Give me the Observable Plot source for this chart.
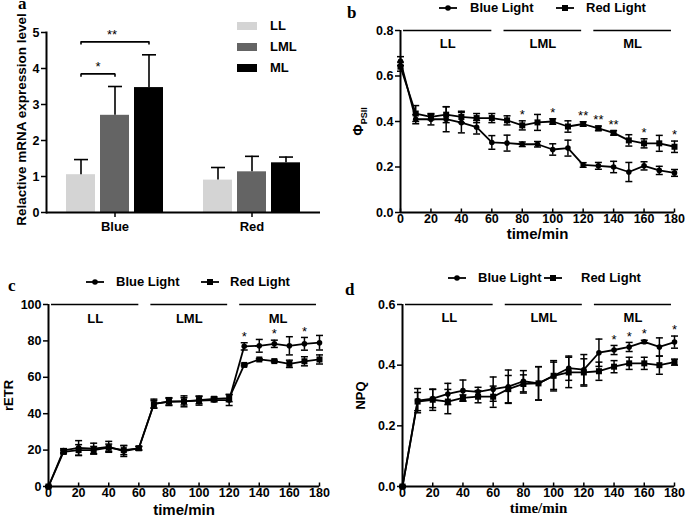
<!DOCTYPE html>
<html><head><meta charset="utf-8">
<script src="https://cdn.jsdelivr.net/npm/d3@7"></script>
<script src="https://cdn.jsdelivr.net/npm/@observablehq/plot@0.6"></script>
<style>
html,body{margin:0;padding:0;background:#fff;}
#page{position:relative;width:685px;height:521px;overflow:hidden;font-family:"Liberation Sans",Arial,sans-serif;font-weight:bold;color:#000;}
.panel{position:absolute;}
.panel svg{overflow:visible;}
.plab{position:absolute;font-family:"Liberation Serif","Times New Roman",serif;font-weight:bold;font-size:17px;line-height:17px;}
.leg{position:absolute;font-size:13px;line-height:16px;white-space:nowrap;}
.sym{position:absolute;overflow:visible;}
.sw{position:absolute;width:20px;height:8px;}
</style></head><body><div id="page">
<div id="pa" class="panel" style="left:0;top:0"></div>
<div id="pb" class="panel" style="left:340px;top:0"></div>
<div id="pc" class="panel" style="left:0;top:260px"></div>
<div id="pd" class="panel" style="left:340px;top:260px"></div>
</div>
<script>
// ---------- Panel a data ----------
const groups = ["Blue", "Red"];
const treatments = ["LL", "LML", "ML"];
const treatColors = ["#d4d4d4", "#646464", "#000000"];
const blueExpr = [1.05, 2.70, 3.47];
const blueExprErr = [0.42, 0.80, 0.91];
const redExpr = [0.90, 1.13, 1.38];
const redExprErr = [0.35, 0.43, 0.16];
const sigFrom = ["LL", "LL"];
const sigTo = ["LML", "ML"];
const sigLevel = [3.85, 4.74];
const sigText = ["*", "**"];

// ---------- Time-course data ----------
const times = [0, 10, 20, 30, 40, 50, 60, 70, 80, 90, 100, 110, 120, 130, 140, 150, 160, 170, 180];
const xTicks = [0, 20, 40, 60, 80, 100, 120, 140, 160, 180];
const periodNames = ["LL", "LML", "ML"];
const periodStart = [2, 68, 127];
const periodEnd = [60, 119, 178];

const phiBlue = [0.665, 0.41, 0.41, 0.41, 0.395, 0.375, 0.308, 0.305, 0.30, 0.30, 0.277, 0.283, 0.209, 0.205, 0.20, 0.178, 0.205, 0.185, 0.174];
const phiBlueErr = [0.02, 0.02, 0.025, 0.055, 0.045, 0.03, 0.03, 0.035, 0.01, 0.012, 0.025, 0.035, 0.01, 0.015, 0.025, 0.042, 0.018, 0.018, 0.015];
const phiRed = [0.641, 0.435, 0.42, 0.43, 0.42, 0.415, 0.415, 0.405, 0.383, 0.396, 0.40, 0.378, 0.389, 0.37, 0.35, 0.317, 0.304, 0.304, 0.289];
const phiRedErr = [0.02, 0.035, 0.012, 0.035, 0.025, 0.02, 0.02, 0.02, 0.02, 0.035, 0.012, 0.025, 0.01, 0.01, 0.01, 0.025, 0.02, 0.035, 0.025];
const phiStarTimes = [80, 100, 120, 130, 140, 160, 180];
const phiStarText = ["*", "*", "**", "**", "**", "*", "*"];

const etrBlue = [0, 19.8, 21.2, 20.8, 21.8, 19.5, 21, 45.5, 46.5, 46.8, 47.2, 47.5, 47.5, 77, 77.3, 78.4, 77.3, 78.4, 79];
const etrBlueErr = [0.5, 1, 4, 3, 3, 3, 1, 2.5, 2, 3, 2.5, 1, 3, 2, 3.5, 2, 5, 3.5, 4];
const etrRed = [0, 19, 20, 20, 21.3, 20, 21, 45.2, 46.8, 46.8, 47.5, 48.2, 48.6, 66.8, 69.8, 68.9, 67.4, 68.8, 69.8];
const etrRedErr = [0.5, 1, 3, 2, 2, 2.5, 1, 2, 2, 2, 2, 1, 2, 0.5, 0.5, 0.5, 2, 2.5, 2.5];
const etrStarTimes = [130, 150, 170];
const etrStarText = ["*", "*", "*"];

const npqBlue = [0, 0.283, 0.29, 0.305, 0.316, 0.312, 0.321, 0.329, 0.347, 0.34, 0.365, 0.39, 0.385, 0.441, 0.45, 0.46, 0.477, 0.46, 0.476];
const npqBlueErr = [0.003, 0.04, 0.03, 0.035, 0.035, 0.015, 0.04, 0.055, 0.035, 0.055, 0.05, 0.04, 0.05, 0.045, 0.015, 0.015, 0.005, 0.03, 0.02];
const npqRed = [0, 0.28, 0.286, 0.28, 0.292, 0.296, 0.296, 0.321, 0.338, 0.34, 0.365, 0.376, 0.376, 0.38, 0.395, 0.406, 0.406, 0.40, 0.41];
const npqRedErr = [0.003, 0.03, 0.035, 0.04, 0.01, 0.02, 0.035, 0.045, 0.03, 0.055, 0.045, 0.05, 0.045, 0.03, 0.02, 0.02, 0.02, 0.03, 0.01];
const npqStarTimes = [140, 150, 160, 180];
const npqStarText = ["*", "*", "*", "*"];

// ---------- helpers ----------
const FONT = "Liberation Sans, Arial, sans-serif";
const SERIF = "Liberation Serif, Times New Roman, serif";
const capSymbol = {draw(ctx, size) { const w = Math.sqrt(size / Math.PI); ctx.moveTo(-w, 0); ctx.lineTo(w, 0); }};
const upTick = {draw(ctx, size) { const h = Math.sqrt(size / Math.PI); ctx.moveTo(0, 0); ctx.lineTo(0, -h); }};
const baseStyle = {fontFamily: FONT, fontWeight: "bold", fontSize: "12px", background: "transparent", color: "black"};

// ---------- Panel a ----------
const exprRows = [];
groups.forEach((g, gi) => treatments.forEach((t, ti) => {
  const m = gi === 0 ? blueExpr : redExpr, e = gi === 0 ? blueExprErr : redExprErr;
  exprRows.push({group: g, treat: t, value: m[ti], top: m[ti] + e[ti]});
}));
const sigRows = sigFrom.map((f, i) => ({group: "Blue", from: f, to: sigTo[i], y: sigLevel[i], text: sigText[i]}));
const sigEnds = sigRows.flatMap(d => [{group: d.group, x: d.from, y: d.y}, {group: d.group, x: d.to, y: d.y}]);

const plotA = Plot.plot({
  width: 340, height: 260,
  marginLeft: 45, marginRight: 20, marginTop: 32, marginBottom: 48,
  style: baseStyle,
  fx: {domain: groups, padding: 0, label: null},
  x: {domain: treatments, paddingInner: 0.155, paddingOuter: 0.55, axis: null},
  y: {domain: [0, 5], axis: null},
  color: {domain: treatments, range: treatColors},
  marks: [
    Plot.barY(exprRows, {fx: "group", x: "treat", y: "value", fill: "treat"}),
    Plot.ruleX(exprRows, {fx: "group", x: "treat", y1: "value", y2: "top", strokeWidth: 1.6}),
    Plot.dot(exprRows, {fx: "group", x: "treat", y: "top", symbol: capSymbol, r: 7, fill: "none", stroke: "black", strokeWidth: 1.6}),
    Plot.link(sigRows, {fx: "group", x1: "from", x2: "to", y1: "y", y2: "y", strokeWidth: 1.6}),
    Plot.ruleX(sigEnds, {fx: "group", x: "x", y1: d => d.y - 0.09, y2: "y", strokeWidth: 1.6}),
    Plot.text(sigRows.filter(d => d.to === "ML"), {fx: "group", x: "to", y: "y", text: "text", dx: -37, dy: -7, fontSize: 13, fontWeight: "normal"}),
    Plot.text(sigRows.filter(d => d.to === "LML"), {fx: "group", x: "from", y: "y", text: "text", dx: 17, dy: -7, fontSize: 13, fontWeight: "normal"}),
    Plot.ruleY([0], {strokeWidth: 2}),
    Plot.frame({anchor: "left", facetAnchor: "left", strokeWidth: 2}),
    Plot.axisY({ticks: [0, 1, 2, 3, 4, 5], tickFormat: "d", tickSize: 5, tickPadding: 2, label: null, strokeWidth: 1.5, fontSize: 12.5, fontWeight: "bold"}),
    Plot.axisFx({anchor: "bottom", tickSize: 5, tickPadding: 4, label: null, fontSize: 13, fontWeight: "bold", strokeWidth: 1.5}),
    Plot.text(["Relactive mRNA expression level"], {text: d => d, frameAnchor: "left", textAnchor: "middle", lineAnchor: "middle", rotate: -90, dx: -25, dy: -3, fontSize: 13.5, fontWeight: "bold", facetAnchor: "left"})
  ]
});
document.getElementById("pa").appendChild(plotA);

// ---------- time-course panels ----------
function timePanel(o) {
  const mk = (v, e) => times.map((t, i) => ({t, v: v[i], lo: v[i] - e[i], hi: v[i] + e[i]}));
  const B = mk(o.blue, o.blueErr), R = mk(o.red, o.redErr), all = B.concat(R);
  const periods = periodNames.map((n, i) => ({name: n, x1: periodStart[i], x2: periodEnd[i], mid: (periodStart[i] + periodEnd[i]) / 2, y: o.yDomain[1]}));
  const stars = o.starTimes.map((t, i) => ({t, text: o.starText[i], y: Math.max(...all.filter(d => d.t === t).map(d => d.hi))}));
  return Plot.plot({
    width: o.width, height: o.height,
    marginLeft: o.ml, marginRight: o.mr, marginTop: o.mt, marginBottom: o.mb,
    style: baseStyle,
    x: {domain: [0, 180], axis: null},
    y: {domain: o.yDomain, axis: null},
    marks: [
      Plot.ruleY(periods, {x1: "x1", x2: "x2", y: "y", strokeWidth: 1.7}),
      Plot.text(periods, {x: "mid", y: "y", text: "name", dy: o.periodDy, fontSize: 13, fontWeight: "bold"}),
      Plot.ruleX(all, {x: "t", y1: "lo", y2: "hi", strokeWidth: 1.5}),
      Plot.dot(all, {x: "t", y: "hi", symbol: capSymbol, r: 3.5, fill: "none", stroke: "black", strokeWidth: 1.5}),
      Plot.dot(all, {x: "t", y: "lo", symbol: capSymbol, r: 3.5, fill: "none", stroke: "black", strokeWidth: 1.5}),
      Plot.line(B, {x: "t", y: "v", strokeWidth: 1.8}),
      Plot.line(R, {x: "t", y: "v", strokeWidth: 1.8}),
      Plot.dot(B, {x: "t", y: "v", r: 2.8, fill: "black"}),
      Plot.dot(R, {x: "t", y: "v", symbol: "square", r: 3.4, fill: "black"}),
      Plot.text(stars, {x: "t", y: "y", text: "text", dy: -6, fontSize: 13, fontWeight: "normal"}),
      Plot.ruleX([0], {strokeWidth: 2}),
      Plot.ruleY([o.yDomain[0]], {strokeWidth: 2}),
      Plot.dot(xTicks, {x: d => d, y: o.yDomain[0], symbol: upTick, r: 4, stroke: "black", strokeWidth: 1.5}),
      Plot.axisX({ticks: xTicks, tickFormat: "d", tickSize: 0, tickPadding: o.xTickPad, label: null, fontSize: 12.5, fontWeight: "bold"}),
      Plot.axisY({ticks: o.yTicks, tickFormat: o.yFormat, tickSize: 5, tickPadding: 2, label: null, strokeWidth: 1.5, fontSize: 12.5, fontWeight: "bold"}),
      Plot.text(["time/min"], {text: d => d, frameAnchor: "bottom", textAnchor: "middle", lineAnchor: "middle", dy: o.xTitleDy, fontSize: 15, fontWeight: "bold", fontFamily: o.xTitleFont}),
      Plot.text([o.yTitle], {text: d => d, frameAnchor: "left", textAnchor: "middle", lineAnchor: "middle", rotate: -90, dx: o.yTitleDx, fontSize: 13, fontWeight: "bold"})
    ]
  });
}

const plotB = timePanel({
  width: 345, height: 260, ml: 60, mr: 11, mt: 30, mb: 48,
  blue: phiBlue, blueErr: phiBlueErr, red: phiRed, redErr: phiRedErr,
  yDomain: [0, 0.8], yTicks: [0, 0.2, 0.4, 0.6, 0.8], yFormat: ".1f",
  starTimes: phiStarTimes, starText: phiStarText,
  periodDy: 13, xTickPad: 2, xTitleDy: 22, xTitleFont: FONT, yTitle: "ΦPSII", yTitleDx: -42
});
document.getElementById("pb").appendChild(plotB);
d3.select(plotB).selectAll("text").filter(function() { return this.textContent === "ΦPSII"; })
  .each(function() {
    const t = d3.select(this); t.text(null);
    t.append("tspan").text("Φ").attr("font-size", 14);
    t.append("tspan").text("PSII").attr("font-size", 9).attr("dy", 4);
  });

const plotC = timePanel({
  width: 340, height: 261, ml: 48, mr: 21, mt: 44, mb: 35,
  blue: etrBlue, blueErr: etrBlueErr, red: etrRed, redErr: etrRedErr,
  yDomain: [0, 100], yTicks: [0, 20, 40, 60, 80, 100], yFormat: "d",
  starTimes: etrStarTimes, starText: etrStarText,
  periodDy: 14, xTickPad: 2, xTitleDy: 24, xTitleFont: FONT, yTitle: "rETR", yTitleDx: -40
});
document.getElementById("pc").appendChild(plotC);

const plotD = timePanel({
  width: 345, height: 261, ml: 62, mr: 11, mt: 44, mb: 35,
  blue: npqBlue, blueErr: npqBlueErr, red: npqRed, redErr: npqRedErr,
  yDomain: [0, 0.6], yTicks: [0, 0.2, 0.4, 0.6], yFormat: ".1f",
  starTimes: npqStarTimes, starText: npqStarText,
  periodDy: 13, xTickPad: 2, xTitleDy: 22, xTitleFont: SERIF, yTitle: "NPQ", yTitleDx: -42
});
document.getElementById("pd").appendChild(plotD);

// ---------- legends and panel letters ----------
const page = document.getElementById("page");
function addText(cls, x, y, txt, extra) {
  const d = document.createElement("div"); d.className = cls; d.textContent = txt;
  d.style.left = x + "px"; d.style.top = y + "px"; if (extra) Object.assign(d.style, extra);
  page.appendChild(d); return d;
}
function addSym(kind, x, y) {
  const ns = "http://www.w3.org/2000/svg";
  const s = document.createElementNS(ns, "svg");
  s.setAttribute("class", "sym"); s.setAttribute("width", 20); s.setAttribute("height", 10);
  s.style.left = x + "px"; s.style.top = (y - 5) + "px";
  const l = document.createElementNS(ns, "line");
  l.setAttribute("x1", 0); l.setAttribute("x2", 18); l.setAttribute("y1", 5); l.setAttribute("y2", 5);
  l.setAttribute("stroke", "black"); l.setAttribute("stroke-width", 1.8); s.appendChild(l);
  let m;
  if (kind === "circle") { m = document.createElementNS(ns, "circle"); m.setAttribute("cx", 9); m.setAttribute("cy", 5); m.setAttribute("r", 2.8); }
  else { m = document.createElementNS(ns, "rect"); m.setAttribute("x", 6); m.setAttribute("y", 2); m.setAttribute("width", 6); m.setAttribute("height", 6); }
  m.setAttribute("fill", "black"); s.appendChild(m);
  page.appendChild(s);
}
const legendLabels = ["Blue Light", "Red Light"];
const legendKinds = ["circle", "square"];
function addLegend(y, lineX, textX) {
  legendLabels.forEach((lab, i) => { addSym(legendKinds[i], lineX[i], y); addText("leg", textX[i], y - 8, lab); });
}
addLegend(8, [439, 556], [470, 586]);
addLegend(282, [86, 201], [116, 230]);
addLegend(278, [448, 544], [478, 581]);

treatments.forEach((t, i) => {
  const sw = document.createElement("div"); sw.className = "sw";
  sw.style.left = "237px"; sw.style.top = (22 + i * 21) + "px"; sw.style.background = treatColors[i];
  page.appendChild(sw);
  addText("leg", 270, 18 + i * 21, t);
});

addText("plab", 18, -5, "a");
addText("plab", 347, 4, "b");
addText("plab", 8, 277, "c");
addText("plab", 345, 281, "d");
</script></body></html>
